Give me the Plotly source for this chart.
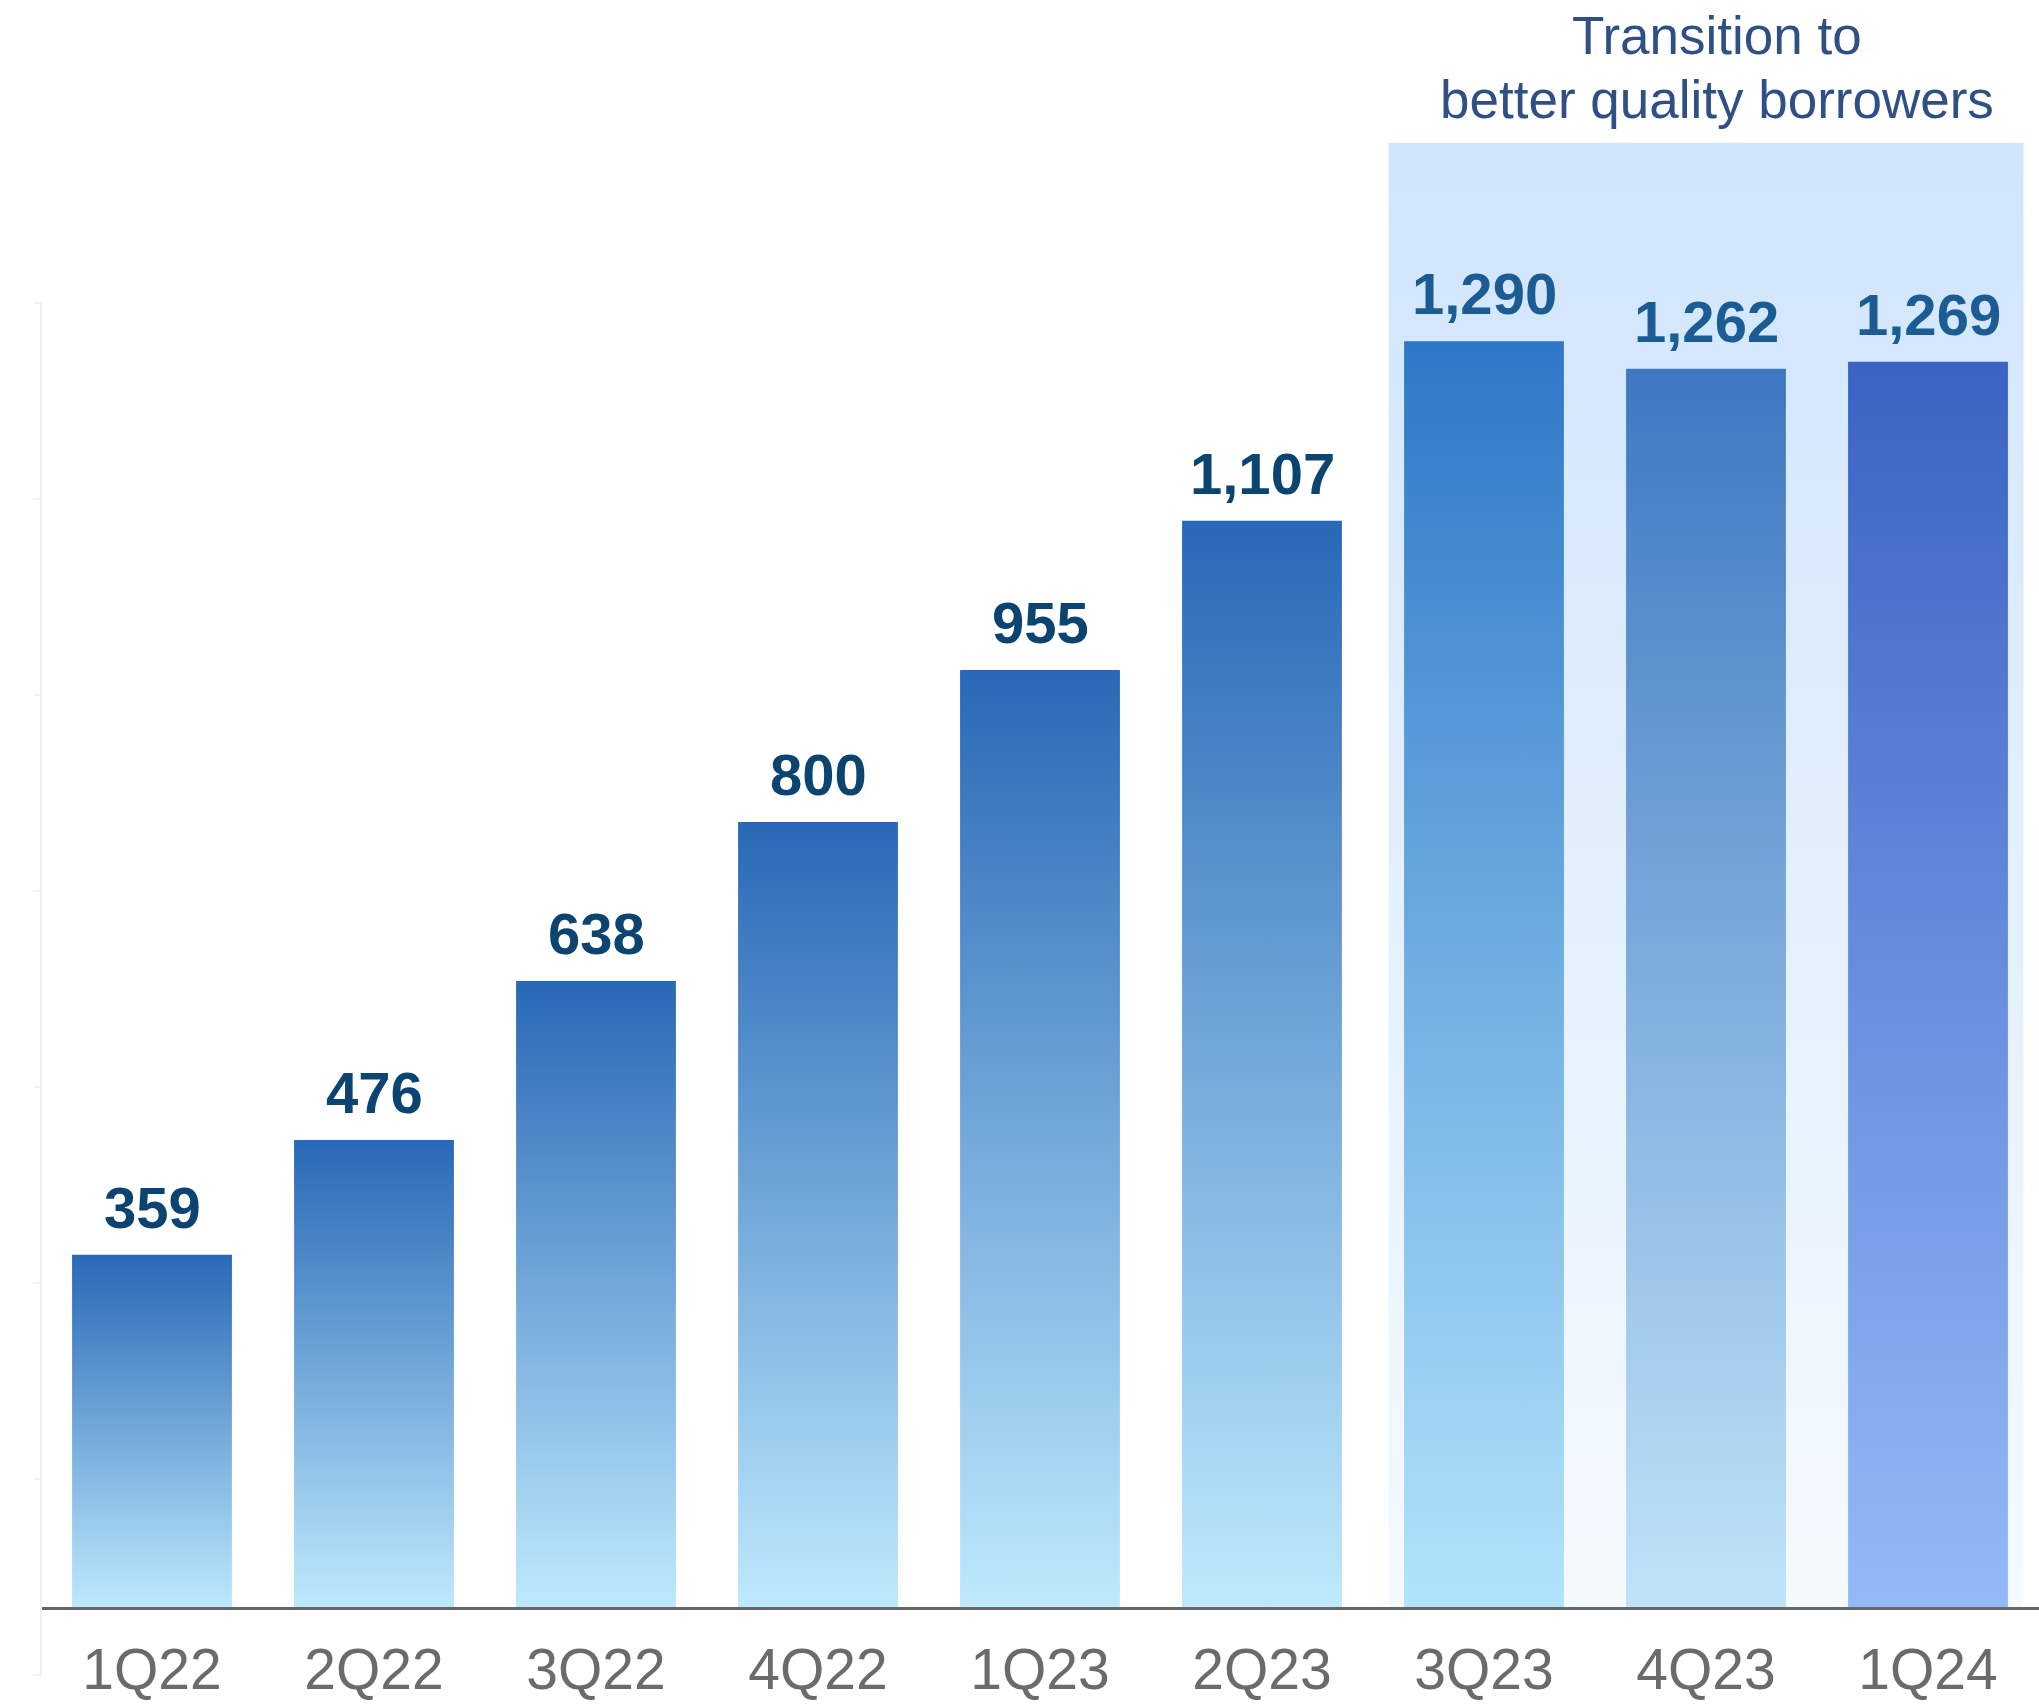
import plotly.graph_objects as go

# ---- data ----
quarters = ["1Q22", "2Q22", "3Q22", "4Q22", "1Q23", "2Q23", "3Q23", "4Q23", "1Q24"]
values = [359, 476, 638, 800, 955, 1107, 1290, 1262, 1269]
value_labels = ["359", "476", "638", "800", "955", "1,107", "1,290", "1,262", "1,269"]
highlight_title = ["Transition to", "better quality borrowers"]

# ---- styles ----
W, H = 2039, 1704
M_L, M_R, M_T, M_B = 41, 0, 143, 97
Y_MAX = 1492
BAR_W = 0.72
top_cols = ["#2868b6"] * 6 + ["#2e78c8", "#3e78c2", "#3c62c4"]
bot_cols = ["#bee9fd"] * 6 + ["#b2e3fb", "#c0e3f8", "#94b9f8"]
label_cols = ["#0b4470"] * 6 + ["#1b5c95"] * 3
FONT = "Liberation Sans, Arial, sans-serif"

fig = go.Figure()

# highlighted region background (gradient)
hx0, hx1 = 5.57, 8.43
fig.add_trace(go.Scatter(
    x=[hx0, hx1, hx1, hx0, hx0], y=[0, 0, Y_MAX, Y_MAX, 0],
    mode="lines", line=dict(width=0), fill="toself",
    fillgradient=dict(type="vertical", start=0, stop=Y_MAX,
                      colorscale=[[0, "#f5fafe"], [1, "#d0e5fc"]]),
    hoverinfo="skip", showlegend=False))

# bars with vertical gradient
for i, (q, v) in enumerate(zip(quarters, values)):
    x0, x1 = i - BAR_W / 2, i + BAR_W / 2
    fig.add_trace(go.Scatter(
        x=[x0, x1, x1, x0, x0], y=[0, 0, v, v, 0],
        mode="lines", line=dict(width=0), fill="toself",
        fillgradient=dict(type="vertical", start=0, stop=v,
                          colorscale=[[0, bot_cols[i]], [1, top_cols[i]]]),
        name=q, hoverinfo="skip", showlegend=False))
    fig.add_annotation(x=i, y=v, text=value_labels[i], showarrow=False,
                       xanchor="center", yanchor="bottom", yshift=13,
                       font=dict(family=FONT, size=58, color=label_cols[i],
                                 weight="bold"))

# title of highlighted region
plot_h = H - M_T - M_B
for txt, py in zip(highlight_title, [36, 99.5]):
    fig.add_annotation(x=7.05, xref="x", y=(H - M_B - py) / plot_h, yref="paper",
                       text=txt, showarrow=False, xanchor="center", yanchor="middle",
                       font=dict(family=FONT, size=53, color="#2f4f85"))

# faint left axis
faint = "#f1f1f1"
fig.add_shape(type="line", xref="paper", yref="paper", x0=0, x1=0,
              y0=(H - M_B - 1676) / plot_h, y1=(H - M_B - 303) / plot_h,
              line=dict(color=faint, width=2))
for k in range(8):
    py = 303 + 196 * k
    yy = (H - M_B - py) / plot_h
    fig.add_shape(type="line", xref="paper", yref="paper", x0=-8 / (W - M_L), x1=0,
                  y0=yy, y1=yy, line=dict(color=faint, width=2))

fig.update_layout(
    width=W, height=H,
    margin=dict(l=M_L, r=M_R, t=M_T, b=M_B, autoexpand=False),
    plot_bgcolor="white", paper_bgcolor="white",
    showlegend=False,
    xaxis=dict(range=[-0.5, 8.5], tickmode="array", tickvals=list(range(len(quarters))),
               ticktext=quarters, showgrid=False, zeroline=False,
               showline=True, linecolor="#666666", linewidth=3, ticks="",
               tickfont=dict(family=FONT, size=57, color="#6b6b6b"),
               ticklabelstandoff=11, automargin=False, fixedrange=True),
    yaxis=dict(range=[0, Y_MAX], showgrid=False, zeroline=False, showline=False,
               showticklabels=False, ticks="", automargin=False, fixedrange=True),
)

fig.write_html("out.html")
